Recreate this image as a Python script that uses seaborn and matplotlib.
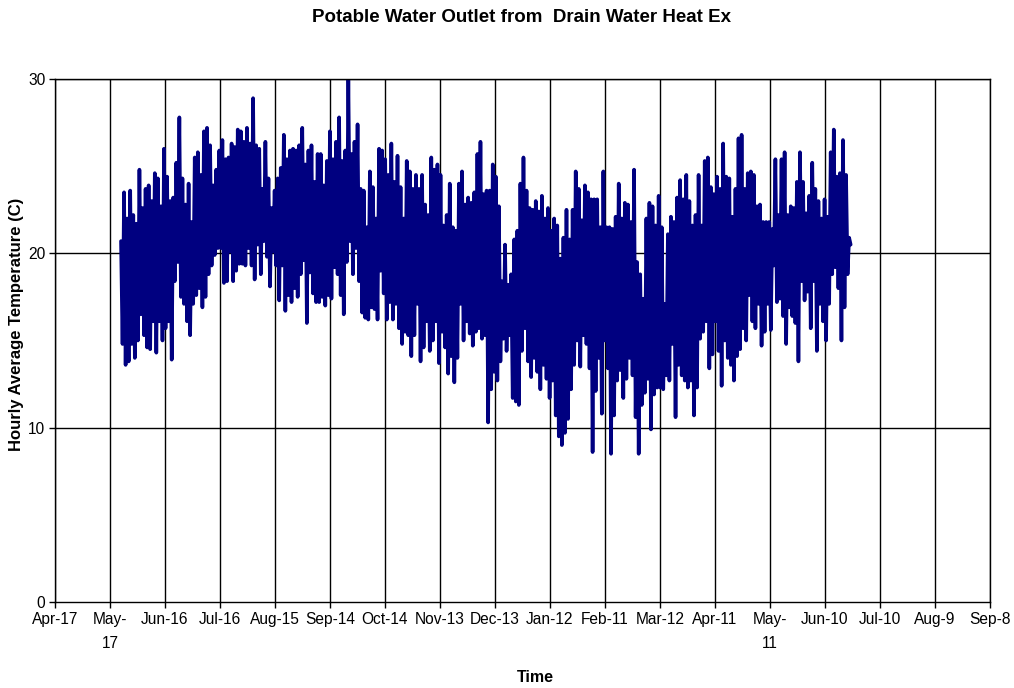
import pandas as pd
import numpy as np
import matplotlib
matplotlib.use('Agg')
import matplotlib.pyplot as plt
import seaborn as sns

# --- data: alternating highs / lows of the hourly trace ---
start_date = '2007-05-23'
end_date = '2008-06-24'

peak_temp = [
    20.7, 23.5, 22.0, 23.6, 22.2, 21.7, 24.8, 22.6, 23.7, 23.9, 23.0, 24.6, 24.3, 22.7, 26.0, 24.4, 23.0, 23.2, 25.2, 27.8,
    24.3, 22.8, 24.0, 21.8, 25.5, 25.8, 24.5, 27.0, 27.2, 26.2, 23.9, 24.8, 25.9, 26.5, 25.4, 25.5, 26.3, 26.1, 27.1,
    27.0, 26.4, 27.2, 26.3, 28.9, 26.2, 26.0, 23.7, 26.4, 24.3, 22.6, 23.6, 24.3, 24.9, 26.8, 25.4, 25.9, 26.0, 25.9, 26.2,
    27.2, 25.1, 25.9, 26.2, 24.1, 25.7, 25.7, 23.9, 25.3, 27.0, 25.4, 26.4, 27.8, 25.3, 25.9, 30.0, 25.7, 26.4, 27.4, 23.7,
    23.6, 21.5, 24.7, 23.8, 22.0, 26.0, 25.9, 25.4, 24.5, 26.3, 24.1, 25.6, 23.8, 22.0, 25.3, 24.7, 23.7, 24.5, 23.7, 24.5,
    22.8, 22.2, 25.5, 24.8, 25.1, 24.5, 21.6, 22.2, 24.0, 21.5, 21.3, 24.0, 24.7, 22.8, 23.2, 22.9, 23.5, 25.7, 26.4, 23.4, 23.6,
    23.6, 25.1, 24.4, 22.7, 18.4, 20.5, 18.2, 18.8, 20.8, 21.3, 24.0, 25.5, 23.6, 22.6, 22.5, 23.0, 22.4, 23.3, 22.0, 22.6,
    21.3, 22.0, 21.6, 19.7, 20.9, 22.5, 20.8, 22.5, 24.7, 23.7, 21.9, 23.9, 23.5, 23.1, 23.1, 23.1, 21.5, 24.7, 21.5, 21.5, 21.4, 22.1,
    24.0, 22.0, 22.9, 22.8, 21.8, 24.8, 19.5, 18.8, 17.4, 22.0, 22.9, 22.7, 21.6, 23.3, 21.5, 17.1, 21.1, 22.1, 21.8, 23.2,
    24.2, 23.1, 24.5, 23.0, 21.6, 22.2, 24.5, 21.6, 25.3, 25.5, 23.8, 23.4, 24.4, 23.7, 26.3, 24.4, 24.3, 22.1, 23.7, 26.6, 26.8, 23.7, 24.6,
    24.7, 24.5, 22.7, 22.8, 21.8, 21.8, 21.8, 21.4, 25.4, 22.2, 25.4, 25.8, 22.2, 22.7, 22.6, 24.1, 25.8, 24.1, 22.3, 23.3,
    25.2, 23.7, 23.0, 22.0, 23.1, 22.1, 25.8, 27.1, 24.4, 24.6, 26.5, 24.5, 20.9,
]

trough_temp = [
    14.8, 13.6, 13.8, 14.8, 14.0, 15.0, 16.5, 15.3, 14.6, 14.5, 16.1, 14.3, 16.1, 15.0, 15.7, 16.1, 13.9, 18.4, 19.5, 17.5,
    17.1, 16.1, 15.3, 17.1, 17.6, 18.0, 16.9, 17.5, 18.8, 19.3, 19.9, 20.3, 20.3, 18.3, 18.4, 20.1, 18.4, 19.0, 19.4,
    19.4, 19.3, 20.3, 19.3, 18.5, 20.5, 18.8, 20.7, 19.8, 18.1, 20.1, 19.3, 17.3, 19.3, 16.7, 17.6, 17.2, 18.0, 17.5, 18.8,
    19.6, 16.0, 18.9, 17.7, 17.2, 17.2, 17.5, 17.0, 17.6, 17.4, 19.2, 18.8, 17.6, 16.5, 19.5, 20.7, 18.8, 20.3, 18.4, 16.6,
    16.3, 16.2, 16.9, 16.8, 16.2, 19.0, 17.7, 16.2, 17.2, 16.2, 17.1, 15.7, 14.8, 15.5, 15.3, 14.1, 15.3, 17.1, 13.8, 14.6,
    16.1, 14.4, 15.0, 16.1, 13.7, 15.5, 14.6, 13.1, 14.1, 12.6, 14.0, 17.1, 15.0, 16.1, 15.4, 14.7, 15.5, 15.7, 15.1, 15.3, 10.3,
    12.2, 13.2, 12.7, 13.8, 15.1, 14.4, 15.3, 11.7, 11.5, 11.3, 14.4, 15.7, 13.8, 12.9, 14.0, 13.2, 12.2, 13.6, 12.8, 11.7,
    12.7, 10.7, 9.5, 9.0, 9.7, 10.5, 12.2, 13.6, 15.0, 13.5, 15.3, 14.8, 13.4, 8.6, 12.1, 14.0, 10.8, 15.0, 13.4, 8.5, 10.7, 12.7,
    13.3, 11.7, 12.8, 14.0, 13.0, 10.6, 8.5, 11.3, 12.0, 12.8, 9.9, 11.9, 12.3, 12.3, 12.2, 13.0, 12.7, 14.8, 10.6, 13.6,
    13.0, 12.7, 12.3, 12.7, 10.7, 12.3, 15.1, 15.5, 16.1, 13.4, 14.2, 16.1, 14.4, 12.4, 15.0, 14.0, 13.6, 12.7, 14.1, 14.5, 15.7, 15.0, 17.6,
    16.1, 15.7, 17.1, 14.7, 15.5, 17.1, 15.6, 19.3, 17.2, 17.4, 16.4, 14.8, 16.9, 16.4, 16.0, 13.8, 18.4, 17.3, 17.8, 15.7,
    18.4, 14.4, 17.1, 16.1, 15.0, 17.1, 18.8, 19.2, 18.0, 15.0, 16.9, 18.8, 20.5,
]

tick_dates = pd.date_range('2007-04-17', periods=18, freq='30D')
tick_labels = ['Apr-17', 'May-\n17', 'Jun-16', 'Jul-16', 'Aug-15', 'Sep-14', 'Oct-14', 'Nov-13', 'Dec-13',
               'Jan-12', 'Feb-11', 'Mar-12', 'Apr-11', 'May-\n11', 'Jun-10', 'Jul-10', 'Aug-9', 'Sep-8']
y_ticks = [0, 10, 20, 30]

# --- build the trace ---
temps = np.column_stack([peak_temp, trough_temp]).ravel()
times = pd.date_range(start_date, end_date, periods=len(temps))
df = pd.DataFrame({'time': times, 'temp': temps})

# --- plot ---
sns.set_style('white')
plt.rcParams['font.family'] = ['Liberation Sans', 'DejaVu Sans']
plt.rcParams['text.color'] = 'black'
plt.rcParams['xtick.color'] = 'black'
plt.rcParams['ytick.color'] = 'black'

fig, ax = plt.subplots(figsize=(10.14, 6.88), dpi=100)
fig.subplots_adjust(left=55 / 1014, right=990 / 1014, top=1 - 79 / 688, bottom=1 - 602 / 688)

sns.lineplot(data=df, x='time', y='temp', color='#000080', linewidth=2.6, ax=ax)

ax.set_xlim(tick_dates[0], tick_dates[-1])
ax.set_ylim(0, 30)
ax.set_xticks(tick_dates)
ax.set_xticklabels(tick_labels, fontsize=11.2, linespacing=1.75)
ax.set_yticks(y_ticks)
ax.set_yticklabels([str(v) for v in y_ticks], fontsize=11.2)
ax.tick_params(axis='both', direction='out', length=4, width=1, colors='black', pad=3, bottom=True, left=True)

for d in tick_dates:
    ax.axvline(d, color='black', linewidth=1, zorder=0)
for v in y_ticks[1:]:
    ax.axhline(v, color='black', linewidth=1, zorder=0)

for s in ax.spines.values():
    s.set_color('black')
    s.set_linewidth(1)

ax.set_xlabel('')
ax.set_ylabel('')
fig.text(522 / 1014, 1 - 18 / 688, 'Potable Water Outlet from  Drain Water Heat Ex',
         ha='center', va='center', fontsize=13.5, fontweight='bold')
fig.text(17 / 1014, 1 - 324 / 688, 'Hourly Average Temperature (C)',
         ha='center', va='center', rotation=90, fontsize=12, fontweight='bold')
fig.text(535 / 1014, 1 - 677 / 688, 'Time', ha='center', va='center', fontsize=11.5, fontweight='bold')

plt.savefig('out.png', dpi=100)
